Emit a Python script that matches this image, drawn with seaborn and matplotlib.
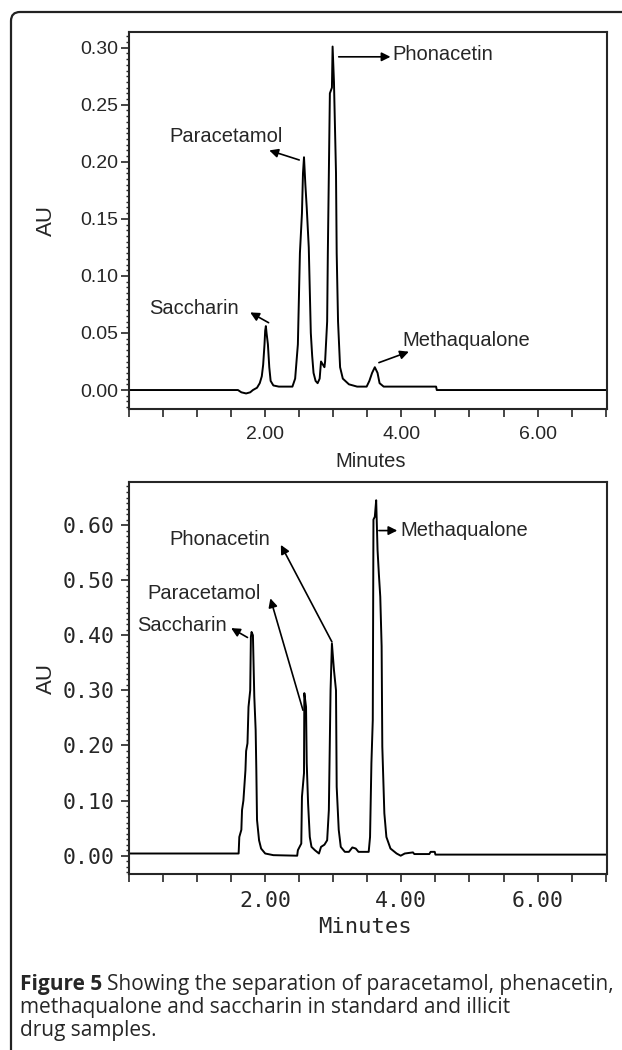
import numpy as np
import pandas as pd
import matplotlib
matplotlib.use("Agg")
import matplotlib.pyplot as plt
import matplotlib.ticker as mticker
from matplotlib.patches import FancyBboxPatch
import seaborn as sns

# chromatogram 1 (standard mixture) - minutes vs AU
std_time = [0.00, 1.60, 1.65, 1.72, 1.78, 1.82, 1.88, 1.92, 1.95, 1.97, 1.99, 2.00, 2.01, 2.02,
            2.04, 2.06, 2.08, 2.12, 2.20, 2.40, 2.44, 2.48, 2.51, 2.54, 2.555, 2.57, 2.59, 2.61,
            2.64, 2.67, 2.69, 2.71, 2.74, 2.77, 2.80, 2.82, 2.85, 2.87, 2.88, 2.91, 2.92, 2.95,
            2.98, 2.99, 3.01, 3.04, 3.05, 3.07, 3.10, 3.14, 3.23, 3.35, 3.49, 3.53, 3.57, 3.61,
            3.65, 3.68, 3.74, 4.51, 4.52, 7.02]
std_au = [0.000, 0.000, -0.002, -0.003, -0.002, 0.000, 0.002, 0.006, 0.012, 0.022, 0.040, 0.052,
          0.056, 0.050, 0.040, 0.020, 0.008, 0.004, 0.003, 0.003, 0.010, 0.040, 0.120, 0.155,
          0.190, 0.204, 0.180, 0.160, 0.125, 0.050, 0.030, 0.015, 0.008, 0.006, 0.010, 0.025,
          0.022, 0.020, 0.025, 0.060, 0.120, 0.260, 0.265, 0.301, 0.270, 0.190, 0.120, 0.060,
          0.020, 0.010, 0.005, 0.003, 0.003, 0.008, 0.015, 0.020, 0.015, 0.006, 0.003, 0.003,
          0.000, 0.000]

# chromatogram 2 (illicit sample)
ill_time = [0.00, 1.61, 1.62, 1.65, 1.66, 1.68, 1.71, 1.72, 1.74, 1.755, 1.78, 1.79, 1.80, 1.82,
            1.84, 1.86, 1.87, 1.88, 1.91, 1.94, 2.00, 2.12, 2.47, 2.48, 2.53, 2.54, 2.57, 2.575,
            2.60, 2.61, 2.63, 2.655, 2.68, 2.73, 2.79, 2.82, 2.87, 2.91, 2.935, 2.96, 2.98, 3.01,
            3.04, 3.05, 3.08, 3.11, 3.17, 3.23, 3.28, 3.33, 3.37, 3.52, 3.54, 3.56, 3.58, 3.59,
            3.61, 3.63, 3.65, 3.67, 3.69, 3.71, 3.72, 3.75, 3.78, 3.84, 3.93, 3.99, 4.05, 4.17,
            4.19, 4.41, 4.43, 4.49, 4.50, 7.02]
ill_au = [0.004, 0.004, 0.034, 0.047, 0.083, 0.100, 0.155, 0.190, 0.204, 0.270, 0.300, 0.397,
          0.406, 0.400, 0.289, 0.228, 0.155, 0.065, 0.028, 0.013, 0.004, 0.001, 0.000, 0.010,
          0.022, 0.107, 0.150, 0.295, 0.270, 0.168, 0.095, 0.034, 0.016, 0.010, 0.004, 0.016,
          0.020, 0.028, 0.083, 0.300, 0.385, 0.337, 0.300, 0.125, 0.047, 0.016, 0.007, 0.007,
          0.015, 0.013, 0.007, 0.007, 0.034, 0.168, 0.246, 0.610, 0.615, 0.645, 0.555, 0.510,
          0.470, 0.380, 0.198, 0.077, 0.034, 0.013, 0.004, 0.000, 0.004, 0.006, 0.003, 0.003,
          0.007, 0.007, 0.002, 0.002]

# peak labels: name, text position, arrow tail, arrow head
std_labels = ["Saccharin", "Paracetamol", "Phonacetin", "Methaqualone"]
std_text_xy = [(0.95, 0.0716), (1.43, 0.222), (3.87, 0.294), (4.02, 0.0438)]
std_text_ha = ["center", "center", "left", "left"]
std_arrow_from = [(2.05, 0.059), (2.50, 0.2016), (3.08, 0.292), (3.67, 0.024)]
std_arrow_to = [(1.78, 0.068), (2.06, 0.210), (3.84, 0.292), (4.11, 0.0336)]

ill_labels = ["Saccharin", "Paracetamol", "Phonacetin", "Methaqualone"]
ill_text_xy = [(1.43, 0.4186), (1.105, 0.476), (1.33, 0.573), (3.99, 0.590)]
ill_text_ha = ["right", "center", "center", "left"]
ill_arrow_from = [(1.74, 0.396), (2.555, 0.264), (2.98, 0.388), (3.67, 0.590)]
ill_arrow_to = [(1.50, 0.413), (2.076, 0.467), (2.23, 0.564), (3.94, 0.590)]

sns.set_style("ticks")
plt.rcParams["font.family"] = ["Liberation Sans", "DejaVu Sans"]
plt.rcParams["axes.linewidth"] = 1.5

fig = plt.figure(figsize=(6.22, 10.5), dpi=100)
ax1 = fig.add_axes([0.2074, 0.6105, 0.7685, 0.3593])
ax2 = fig.add_axes([0.2074, 0.1673, 0.7685, 0.3739])

df1 = pd.DataFrame({"Minutes": std_time, "AU": std_au})
df2 = pd.DataFrame({"Minutes": ill_time, "AU": ill_au})
sns.lineplot(data=df1, x="Minutes", y="AU", ax=ax1, color="black", lw=1.4,
             estimator=None, sort=False)
sns.lineplot(data=df2, x="Minutes", y="AU", ax=ax2, color="black", lw=1.4,
             estimator=None, sort=False)


def label_peaks(ax, labels, text_xy, has, a_from, a_to, size):
    for name, (tx, ty), ha, p0, p1 in zip(labels, text_xy, has, a_from, a_to):
        ax.text(tx, ty, name, ha=ha, va="center", fontsize=size)
        ax.annotate("", xy=p1, xytext=p0,
                    arrowprops=dict(arrowstyle="-|>", color="black", lw=1.2,
                                    mutation_scale=13, shrinkA=0, shrinkB=0))


label_peaks(ax1, std_labels, std_text_xy, std_text_ha, std_arrow_from, std_arrow_to, 14.5)
label_peaks(ax2, ill_labels, ill_text_xy, ill_text_ha, ill_arrow_from, ill_arrow_to, 14.5)

# axes styling
ax1.set_xlim(0, 7.02)
ax1.set_ylim(-0.0166, 0.314)
ax2.set_xlim(0, 7.02)
ax2.set_ylim(-0.0338, 0.6786)

for ax in (ax1, ax2):
    ax.xaxis.set_major_locator(mticker.FixedLocator([2, 4, 6]))
    ax.xaxis.set_minor_locator(mticker.MultipleLocator(0.5))
    ax.xaxis.set_major_formatter(mticker.FormatStrFormatter("%.2f"))
    ax.yaxis.set_major_formatter(mticker.FormatStrFormatter("%.2f"))
    ax.tick_params(axis="x", which="both", direction="out", length=6, width=1.2, pad=6)
    ax.tick_params(axis="y", which="major", direction="out", length=6, width=1.2, pad=1.5)
    ax.tick_params(axis="y", which="minor", direction="out", length=2.5, width=1.0)
    for s in ax.spines.values():
        s.set_visible(True)
        s.set_linewidth(1.5)

ax2.tick_params(axis="y", which="major", pad=4)

ax1.yaxis.set_major_locator(mticker.MultipleLocator(0.05))
ax1.yaxis.set_minor_locator(mticker.MultipleLocator(0.005))
ax2.yaxis.set_major_locator(mticker.MultipleLocator(0.10))
ax2.yaxis.set_minor_locator(mticker.MultipleLocator(0.01))

for lab in ax1.get_xticklabels() + ax1.get_yticklabels():
    lab.set_fontsize(14)
mono = ["DejaVu Sans Mono", "Liberation Mono"]
for lab in ax2.get_xticklabels() + ax2.get_yticklabels():
    lab.set_fontsize(15.5)
    lab.set_family(mono)

ax1.set_xlabel("Minutes", fontsize=14.5)
ax1.set_ylabel("AU", fontsize=16)
ax2.set_xlabel("Minutes", fontsize=16, family=mono)
ax2.set_ylabel("AU", fontsize=16)
ax1.xaxis.set_label_coords(0.506, -0.114)
ax1.yaxis.set_label_coords(-0.15, 0.5)
ax2.xaxis.set_label_coords(0.494, -0.109)
ax2.yaxis.set_label_coords(-0.15, 0.5)

# rounded frame around the figure panel
frame = FancyBboxPatch((0.11, -1.0), 7.0, 11.38, boxstyle="round,pad=0,rounding_size=0.09",
                       transform=fig.dpi_scale_trans, fill=False, edgecolor="#222222",
                       lw=1.6, clip_on=False)
fig.patches.append(frame)

# caption
cap_font = ["Open Sans", "DejaVu Sans"]
cap_size = 15.0
y1 = 1 - 990 / 1050
t_bold = fig.text(20 / 622, y1, "Figure 5", fontsize=cap_size, fontweight="bold",
                  family=cap_font, va="baseline", ha="left")
fig.canvas.draw()
bb = t_bold.get_window_extent()
fig.text((bb.x1 + 5) / 622, y1, "Showing the separation of paracetamol, phenacetin,",
         fontsize=cap_size, family=cap_font, va="baseline", ha="left")
fig.text(20 / 622, 1 - 1013 / 1050, "methaqualone and saccharin in standard and illicit",
         fontsize=cap_size, family=cap_font, va="baseline", ha="left")
fig.text(20 / 622, 1 - 1036 / 1050, "drug samples.",
         fontsize=cap_size, family=cap_font, va="baseline", ha="left")

fig.savefig("out.png", dpi=100)
